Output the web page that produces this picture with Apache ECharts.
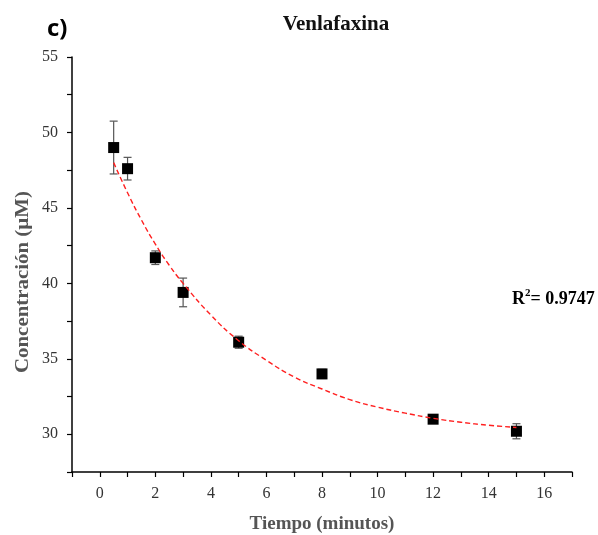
<!DOCTYPE html>
<html>
<head>
<meta charset="utf-8">
<script src="https://cdn.jsdelivr.net/npm/echarts@6/dist/echarts.min.js"></script>
<style>
  html, body { margin: 0; padding: 0; background: #fff; }
  #chart { width: 598px; height: 535px; }
</style>
</head>
<body>
<div id="chart"></div>
<script>
// Measured concentrations over time (mean ± error)
const timeMin = [0.5, 1, 2, 3, 5, 8, 12, 15];
const concMean = [49.0, 47.6, 41.7, 39.4, 36.1, 34.0, 31.0, 30.2];
const concErr = [1.75, 0.75, 0.45, 0.95, 0.4, 0.3, 0.15, 0.5];

// Points along the exponential decay fit line
const fitTime = [0.5, 1, 1.5, 2, 2.5, 3, 4, 5, 6, 7, 8, 9, 10, 11, 12, 13, 14, 15];
const fitConc = [48.0, 46.0, 44.2, 42.6, 41.2, 40.0, 37.9, 36.2, 34.9, 33.8, 33.0, 32.3, 31.8, 31.4, 31.06, 30.8, 30.6, 30.45];

const rSquared = '0.9747';

const serif = '"Liberation Serif", "Times New Roman", serif';
const chart = echarts.init(document.getElementById('chart'));

const points = timeMin.map((t, i) => [t, concMean[i]]);
const bars = timeMin.map((t, i) => [t, concMean[i], concErr[i]]);
const fit = fitTime.map((t, i) => [t, fitConc[i]]);

chart.setOption({
  animation: false,
  backgroundColor: '#fff',
  grid: { left: 72, right: 26, top: 57, bottom: 63, containLabel: false, outerBoundsMode: 'none' },
  xAxis: {
    type: 'value', min: -1, max: 17, interval: 1,
    name: 'Tiempo (minutos)', nameLocation: 'middle', nameGap: 43,
    nameTextStyle: { fontFamily: serif, fontWeight: 'bold', fontSize: 19, color: '#555' },
    axisLine: { show: true, onZero: false, lineStyle: { color: '#000', width: 1.5 } },
    axisTick: { show: true, inside: false, length: 5, lineStyle: { color: '#000', width: 1.2 } },
    axisLabel: {
      fontFamily: serif, fontSize: 16, color: '#333', margin: 14,
      formatter: v => (Math.round(v) % 2 === 0 && v >= 0 && v <= 16) ? String(v) : ''
    },
    splitLine: { show: false }
  },
  yAxis: {
    type: 'value', min: 27.5, max: 55, interval: 2.5,
    axisLine: { show: true, onZero: false, lineStyle: { color: '#000', width: 1.5 } },
    axisTick: { show: true, inside: false, length: 5, lineStyle: { color: '#000', width: 1.2 } },
    axisLabel: {
      fontFamily: serif, fontSize: 16, color: '#333', margin: 14,
      formatter: v => (Math.abs(v % 5) < 1e-9 && v >= 30) ? String(v) : ''
    },
    splitLine: { show: false }
  },
  series: [
    {
      type: 'custom',
      data: bars,
      z: 2,
      renderItem: function (params, api) {
        const x = api.value(0), y = api.value(1), e = api.value(2);
        const top = api.coord([x, y + e]);
        const bot = api.coord([x, y - e]);
        const cap = 4;
        const style = { stroke: '#555', lineWidth: 1.2 };
        return {
          type: 'group',
          children: [
            { type: 'line', shape: { x1: top[0], y1: top[1], x2: bot[0], y2: bot[1] }, style },
            { type: 'line', shape: { x1: top[0] - cap, y1: top[1], x2: top[0] + cap, y2: top[1] }, style },
            { type: 'line', shape: { x1: bot[0] - cap, y1: bot[1], x2: bot[0] + cap, y2: bot[1] }, style }
          ]
        };
      }
    },
    {
      type: 'scatter',
      data: points,
      symbol: 'rect',
      symbolSize: 11,
      itemStyle: { color: '#000', opacity: 1 },
      z: 3
    },
    {
      type: 'line',
      data: fit,
      smooth: true,
      showSymbol: false,
      lineStyle: { color: '#ff2020', width: 1.4, type: [5, 3] },
      z: 4
    }
  ],
  graphic: [
    {
      // chart title
      type: 'text', x: 336, y: 25,
      style: {
        text: 'Venlafaxina', fontFamily: serif, fontWeight: 'bold', fontSize: 21,
        fill: '#111', align: 'center', verticalAlign: 'middle'
      }
    },
    {
      // panel letter
      type: 'text', x: 47, y: 29,
      style: {
        text: 'c)', fontFamily: '"Open Sans", "Noto Sans", sans-serif', fontWeight: 'bold', fontSize: 24,
        fill: '#000', align: 'left', verticalAlign: 'middle'
      }
    },
    {
      // y-axis title, drawn rotated and slightly widened
      type: 'text', x: 23, y: 282, rotation: Math.PI / 2, scaleX: 1.1,
      style: {
        text: 'Concentración (µM)', fontFamily: serif, fontWeight: 'bold', fontSize: 19,
        fill: '#555', align: 'center', verticalAlign: 'middle'
      }
    },
    {
      type: 'text', left: 512, top: 288,
      style: {
        text: '{b|R}{s|2}{b|= ' + rSquared + '}',
        rich: {
          b: { fontFamily: serif, fontWeight: 'bold', fontSize: 18, color: '#444', verticalAlign: 'bottom' },
          s: { fontFamily: serif, fontWeight: 'bold', fontSize: 11, color: '#444', verticalAlign: 'top', padding: [0, 0, 9, 0] }
        }
      }
    }
  ]
});
</script>
</body>
</html>
